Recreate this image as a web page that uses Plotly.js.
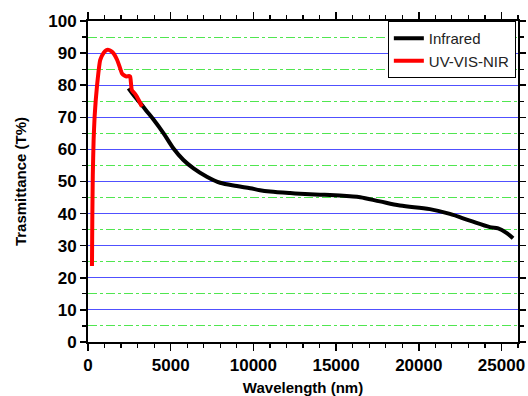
<!DOCTYPE html>
<html>
<head>
<meta charset="utf-8">
<script src="https://cdn.plot.ly/plotly-3.0.1.min.js"></script>
<style>html,body{margin:0;padding:0;background:#fff;}#chart{width:528px;height:396px;}</style>
</head>
<body>
<div id="chart"></div>
<script>
var irWavelength = [2450, 2800, 3260, 3600, 3960, 4570, 5170, 5770, 6380, 7185, 7990, 9000, 9810, 10400, 11010, 12220, 12820, 14030, 14630, 15840, 16460, 17650, 18860, 20670, 21880, 23090, 24300, 24800, 25300, 25700];
var irTrans = [79.0, 76.6, 73.8, 71.6, 69.3, 65.0, 60.3, 56.7, 54.1, 51.5, 49.6, 48.6, 47.9, 47.3, 46.9, 46.4, 46.2, 45.9, 45.8, 45.4, 45.1, 43.8, 42.5, 41.4, 39.9, 37.8, 35.8, 35.4, 34.0, 32.3];
var uvWavelength = [240, 260, 290, 340, 400, 540, 740, 945, 1100, 1245, 1400, 1550, 1750, 1910, 2050, 2200, 2350, 2480, 2550, 2600, 2650, 2800, 2960, 3100, 3260];
var uvTrans = [23.7, 38, 52, 63, 70.2, 79.5, 87.9, 90.1, 90.9, 91.0, 90.6, 89.9, 88.0, 85.8, 83.7, 83.0, 82.7, 82.9, 82.7, 80.5, 78.5, 77.6, 76.4, 75.0, 73.3];
var seriesNames = ["Infrared", "UV-VIS-NIR"];
var xTickVals = [0, 5000, 10000, 15000, 20000, 25000];
var yTickVals = [0, 10, 20, 30, 40, 50, 60, 70, 80, 90, 100];

var traces = [
  {x: irWavelength, y: irTrans, name: seriesNames[0], mode: 'lines', line: {color: 'rgb(0,0,0)', width: 4, shape: 'spline', smoothing: 1}},
  {x: uvWavelength, y: uvTrans, name: seriesNames[1], mode: 'lines', line: {color: 'rgb(255,0,0)', width: 4, shape: 'spline', smoothing: 0.5}}
];

var fontFam = '"Liberation Sans", Arial, sans-serif';
var layout = {
  width: 528, height: 396,
  margin: {l: 88, r: 10, t: 21, b: 54},
  paper_bgcolor: 'rgb(255,255,255)', plot_bgcolor: 'rgb(255,255,255)',
  showlegend: true,
  legend: {
    x: 0.995, y: 1.0, xanchor: 'right', yanchor: 'top',
    bgcolor: 'rgb(255,255,255)', bordercolor: 'rgb(0,0,0)', borderwidth: 1,
    font: {family: fontFam, size: 15, color: 'rgb(34,34,34)'},
    itemwidth: 30, tracegroupgap: 0
  },
  xaxis: {
    range: [0, 26000], tickvals: xTickVals, ticktext: xTickVals.map(String),
    ticks: 'outside', ticklen: 7, tickwidth: 1.5, tickcolor: 'rgb(0,0,0)',
    minor: {dtick: 1000, ticks: 'outside', ticklen: 4, tickwidth: 1.2, tickcolor: 'rgb(0,0,0)', showgrid: false},
    showline: true, linecolor: 'rgb(0,0,0)', linewidth: 2, mirror: 'allticks',
    showgrid: false, zeroline: false,
    tickfont: {family: fontFam, size: 17, color: 'rgb(0,0,0)', weight: 'bold'},
    title: {text: '<b>Wavelength (nm)</b>', font: {family: fontFam, size: 15, color: 'rgb(0,0,0)'}, standoff: 14}
  },
  yaxis: {
    range: [0, 100], tickvals: yTickVals, ticktext: yTickVals.map(String),
    ticks: 'outside', ticklen: 6, tickwidth: 1.5, tickcolor: 'rgb(0,0,0)',
    minor: {dtick: 5, ticks: 'outside', ticklen: 4, tickwidth: 1.2, tickcolor: 'rgb(0,0,0)',
            showgrid: true, gridcolor: 'rgb(80,230,80)', gridwidth: 1, griddash: 'dashdot'},
    showline: true, linecolor: 'rgb(0,0,0)', linewidth: 2, mirror: 'allticks',
    showgrid: true, gridcolor: 'rgb(80,80,255)', gridwidth: 1, zeroline: false,
    tickfont: {family: fontFam, size: 17, color: 'rgb(0,0,0)', weight: 'bold'},
    title: {text: '<b>Trasmittance (T%)</b>', font: {family: fontFam, size: 15, color: 'rgb(0,0,0)'}, standoff: 18}
  }
};
Plotly.newPlot('chart', traces, layout, {displayModeBar: false, staticPlot: true});
</script>
</body>
</html>
